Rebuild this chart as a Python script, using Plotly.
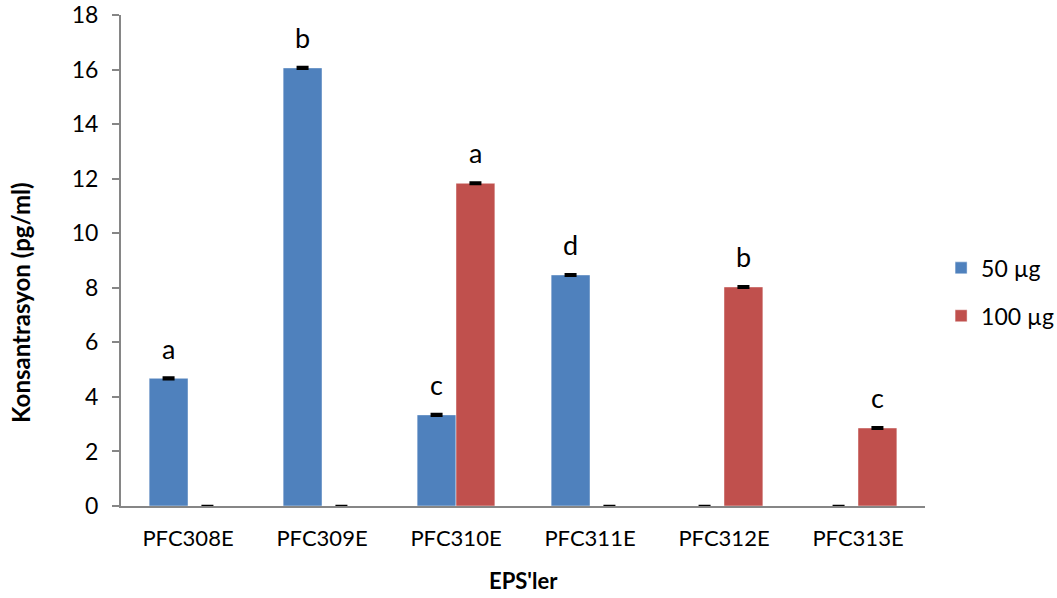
import plotly.graph_objects as go

# Samples, concentrations and significance letters
categories = ["PFC308E", "PFC309E", "PFC310E", "PFC311E", "PFC312E", "PFC313E"]
dose_50 = [4.68, 16.06, 3.34, 8.47, 0.0, 0.0]
dose_100 = [0.0, 0.0, 11.83, 0.0, 8.03, 2.86]
err_50 = [0.03, 0.03, 0.03, 0.03, 0.0, 0.0]
err_100 = [0.0, 0.0, 0.03, 0.0, 0.03, 0.03]
letters_50 = ["a", "b", "c", "d", "", ""]
letters_100 = ["", "", "a", "", "b", "c"]
series_names = ["50 µg", "100 µg"]

BLUE = "#4F81BD"
RED = "#C0504D"
FONT = "Lato"
GAP = 0.42
HALF = (1 - GAP) / 4  # offset of each bar centre from the category centre

x_idx = list(range(len(categories)))

fig = go.Figure()
for vals, errs, color, name in [(dose_50, err_50, BLUE, series_names[0]),
                                (dose_100, err_100, RED, series_names[1])]:
    fig.add_trace(go.Bar(
        x=x_idx, y=vals, name=name, legendgroup=name,
        marker=dict(color=color, line=dict(color="rgba(255,255,255,0.45)", width=1)),
        error_y=dict(type="data", array=errs, visible=True,
                     color="black", thickness=2.5, width=6),
    ))

# Significance letters above each bar
annotations = []
for offset, vals, errs, labels in [(-HALF, dose_50, err_50, letters_50),
                                   (HALF, dose_100, err_100, letters_100)]:
    for i, (v, e, t) in enumerate(zip(vals, errs, labels)):
        if t:
            annotations.append(dict(
                x=i + offset, y=v + e, text=t, showarrow=False,
                yanchor="bottom", yshift=11,
                font=dict(family=FONT, size=27, color="black"),
            ))

# Axis titles
annotations.append(dict(
    xref="paper", yref="paper", x=0.5, y=-0.151, xanchor="center", yanchor="middle",
    text="<b>EPS'ler</b>", showarrow=False, font=dict(family=FONT, size=22, color="black"),
))
annotations.append(dict(
    xref="paper", yref="paper", x=-0.1244, y=0.4155, xanchor="center", yanchor="middle",
    text="<b>Konsantrasyon (pg/ml)</b>", textangle=-90, showarrow=False,
    font=dict(family=FONT, size=24, color="black"),
))

fig.update_layout(
    width=1057, height=598,
    barmode="group", bargap=GAP, bargroupgap=0,
    plot_bgcolor="white", paper_bgcolor="white",
    margin=dict(l=121, r=132, t=15, b=92, autoexpand=False),
    font=dict(family=FONT, size=22, color="black"),
    annotations=annotations,
    showlegend=True,
    legend=dict(x=1.02, y=0.436, xanchor="left", yanchor="middle",
                font=dict(family=FONT, size=23), tracegroupgap=15,
                itemwidth=30, traceorder="grouped"),
    xaxis=dict(
        tickmode="array", tickvals=x_idx, ticktext=categories,
        range=[-0.5, len(categories) - 0.5], automargin=False,
        showline=True, linecolor="#868686", linewidth=2,
        ticks="", showgrid=False, zeroline=False, ticklabelstandoff=12,
        tickfont=dict(family=FONT, size=22),
    ),
    yaxis=dict(
        range=[0, 18], dtick=2, tick0=0, automargin=False,
        showline=True, linecolor="#868686", linewidth=2,
        ticks="outside", ticklen=7, tickcolor="#868686", tickwidth=2,
        showgrid=False, zeroline=False, ticklabelstandoff=9,
        tickfont=dict(family=FONT, size=23),
    ),
)

fig.write_html("out.html")
